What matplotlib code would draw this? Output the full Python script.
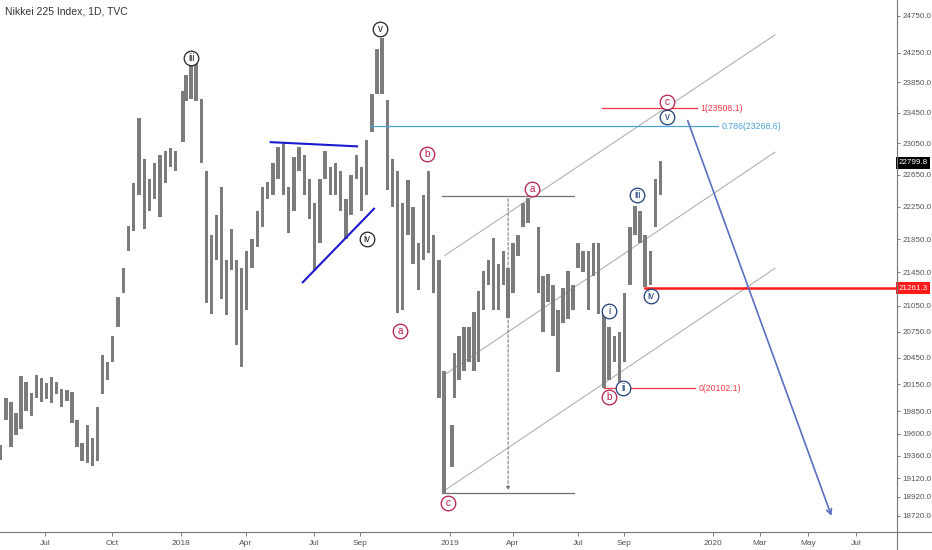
import numpy as np
import matplotlib
matplotlib.use("Agg")
from matplotlib import pyplot as plt

plt.rcParams['font.family'] = ['Liberation Sans', 'DejaVu Sans']

# ---------------- data ----------------
# weekly bars (Monday of week), high / low
week_dates = ['2017-05-01', '2017-05-08', '2017-05-15', '2017-05-22', '2017-05-29', '2017-06-05',
              '2017-06-12', '2017-06-19', '2017-06-26', '2017-07-03', '2017-07-10', '2017-07-17',
              '2017-07-24', '2017-07-31', '2017-08-07', '2017-08-14', '2017-08-21', '2017-08-28',
              '2017-09-04', '2017-09-11', '2017-09-18', '2017-09-25', '2017-10-02', '2017-10-09',
              '2017-10-16', '2017-10-23', '2017-10-30', '2017-11-06', '2017-11-13', '2017-11-20',
              '2017-11-27', '2017-12-04', '2017-12-11', '2017-12-18', '2017-12-25', '2018-01-04',
              '2018-01-08', '2018-01-15', '2018-01-22', '2018-01-29', '2018-02-05', '2018-02-12',
              '2018-02-19', '2018-02-26', '2018-03-05', '2018-03-12', '2018-03-19', '2018-03-26',
              '2018-04-02', '2018-04-09', '2018-04-16', '2018-04-23', '2018-04-30', '2018-05-07',
              '2018-05-14', '2018-05-21', '2018-05-28', '2018-06-04', '2018-06-11', '2018-06-18',
              '2018-06-25', '2018-07-02', '2018-07-09', '2018-07-16', '2018-07-23', '2018-07-30',
              '2018-08-06', '2018-08-13', '2018-08-20', '2018-08-27', '2018-09-03', '2018-09-10',
              '2018-09-17', '2018-09-24', '2018-10-01', '2018-10-08', '2018-10-15', '2018-10-22',
              '2018-10-29', '2018-11-05', '2018-11-12', '2018-11-19', '2018-11-26', '2018-12-03',
              '2018-12-10', '2018-12-17', '2018-12-24', '2019-01-04', '2019-01-07', '2019-01-14',
              '2019-01-21', '2019-01-28', '2019-02-04', '2019-02-11', '2019-02-18', '2019-02-25',
              '2019-03-04', '2019-03-11', '2019-03-18', '2019-03-25', '2019-04-01', '2019-04-08',
              '2019-04-15', '2019-04-22', '2019-05-07', '2019-05-13', '2019-05-20', '2019-05-27',
              '2019-06-03', '2019-06-10', '2019-06-17', '2019-06-24', '2019-07-01', '2019-07-08',
              '2019-07-15', '2019-07-22', '2019-07-29', '2019-08-05', '2019-08-12', '2019-08-19',
              '2019-08-26', '2019-09-02', '2019-09-09', '2019-09-16', '2019-09-23', '2019-09-30',
              '2019-10-07', '2019-10-14', '2019-10-21']
week_high = [19480, 19998, 19950, 19830, 20240, 20170, 20050, 20250, 20220, 20160, 20230, 20170,
             20100, 20080, 20060, 19750, 19500, 19700, 19550, 19900, 20480, 20400, 20700, 21160,
             21500, 22010, 22540, 23380, 22850, 22600, 22800, 22900, 22950, 22990, 22950, 23730,
             23950, 24085, 24130, 23630, 22700, 21900, 22150, 22500, 21600, 21970, 21600, 21500,
             21700, 21850, 22200, 22500, 22560, 22800, 23000, 23050, 22500, 22880, 23010, 22900,
             22600, 22300, 22600, 22950, 22750, 22800, 22700, 22350, 22650, 22900, 22750, 23100,
             23700, 24300, 24450, 23620, 22850, 22700, 22300, 22580, 22250, 21800, 22400, 22700,
             21900, 21600, 20300, 19700, 20500, 20700, 20800, 20800, 20980, 21230, 21460, 21600,
             21860, 21550, 21700, 21500, 21800, 21900, 22300, 22362, 22000, 21400, 21430, 21300,
             21000, 21260, 21460, 21300, 21800, 21700, 21700, 21800, 21800, 21000, 20800, 20700,
             20750, 21200, 22000, 22255, 22200, 21900, 21700, 22600, 22830]
week_low = [19310, 19750, 19450, 19590, 19650, 19850, 19800, 20000, 19950, 19980, 19940, 20040,
            19900, 19960, 19720, 19450, 19300, 19280, 19250, 19300, 20040, 20200, 20400, 20800,
            21200, 21700, 21950, 22400, 21970, 22200, 22350, 22120, 22550, 22750, 22700, 23070,
            23600, 23630, 23600, 22800, 21080, 20950, 21600, 21130, 20940, 21480, 20600, 20347,
            21000, 21500, 21750, 22000, 22350, 22400, 22600, 22400, 21930, 22200, 22700, 22400,
            22100, 21462, 21800, 22600, 22400, 22400, 22200, 21850, 22150, 22600, 22200, 22400,
            23200, 23700, 23700, 22460, 22250, 20971, 21000, 21900, 21550, 21240, 21600, 21680,
            21200, 20000, 18948, 19241, 20000, 20200, 20300, 20400, 20300, 20400, 21000, 21300,
            21000, 21000, 21300, 20911, 21200, 21650, 22000, 22050, 21200, 20750, 21100, 20700,
            20289, 20850, 20900, 21000, 21500, 21450, 21000, 21400, 20960, 20110, 20200, 20400,
            20173, 20400, 21300, 21900, 21800, 21276, 21300, 22000, 22400]

last_price = 22799.8
iv_level = 21261.3

# Elliott wave labels: (date, price, text, colour group)
wave_dates = ['2018-01-15', '2018-09-28', '2018-09-10', '2018-10-25', '2018-12-01', '2018-12-29',
              '2019-04-28', '2019-08-12', '2019-10-30', '2019-08-12', '2019-08-31', '2019-09-19',
              '2019-10-08', '2019-10-30']
wave_prices = [24175, 24571, 21857, 20758, 22913, 18855, 22472, 20002, 23589, 20990, 20102,
               22398, 21166, 23392]
wave_text = ['iii', 'v', 'iv', 'a', 'b', 'c', 'a', 'b', 'c', 'i', 'ii', 'iii', 'iv', 'v']
wave_group = ['k', 'k', 'k', 'r', 'r', 'r', 'r', 'r', 'r', 'n', 'n', 'n', 'n', 'n']

# fibonacci levels: (start, end, price, label)
fib_start = ['2019-08-02', '2018-09-14', '2019-08-05']
fib_end = ['2019-12-10', '2020-01-08', '2019-12-08']
fib_price = [23508.1, 23268.6, 20102.1]
fib_label = ['1(23508.1)', '0.786(23268.6)', '0(20102.1)']

# triangle lines
tri_dates = [['2018-05-04', '2018-08-28'], ['2018-06-16', '2018-09-20']]
tri_prices = [[23066, 23012], [21330, 22224]]

# parallel channel
chan_dates = ['2018-12-25', '2020-03-20']
chan_prices = [[21652, 24490], [20259, 22938], [18990, 21497]]

# measure box
meas_dates = ['2018-12-21', '2019-06-26', '2019-03-25']
meas_prices = [22385, 18960]

# projected arrow
arrow_dates = ['2019-11-26', '2020-06-01']
arrow_prices = [23379, 18694]

# axis labels
y_ticks = [24750, 24250, 23850, 23450, 23050, 22650, 22250, 21850, 21450, 21050, 20750,
           20450, 20150, 19850, 19600, 19360, 19120, 18920, 18720]
x_tick_dates = ['2017-07-01', '2017-10-01', '2018-01-01', '2018-04-01', '2018-07-01',
                '2018-09-01', '2019-01-01', '2019-04-01', '2019-07-01', '2019-09-01',
                '2020-01-01', '2020-03-01', '2020-05-01', '2020-07-01']
x_tick_labels = ['Jul', 'Oct', '2018', 'Apr', 'Jul', 'Sep', '2019', 'Apr', 'Jul', 'Sep',
                 '2020', 'Mar', 'May', 'Jul']

# TradingView-style time axis: calibration of dates to screen position
cal_dates = ['2017-04-01'] + x_tick_dates
cal_pos = [-21, 45, 112, 181, 246, 314, 360, 450, 513, 578, 624, 713, 760, 808, 856]


def tx(d):
    d = np.array(d, dtype='datetime64[D]').astype(float)
    c = np.array(cal_dates, dtype='datetime64[D]').astype(float)
    return np.interp(d, c, cal_pos)


W, H = 932, 550
fig = plt.figure(figsize=(W / 100, H / 100), dpi=100)
ax = fig.add_axes([0, 18 / H, 897 / W, 532 / H])
ax.set_yscale('log')
ax.set_ylim(18553, 24972)
ax.set_xlim(0, 897)

red = '#f23645'
maroon = '#b71c4a'
navy = '#1f3f7a'

# bars
hi = np.array(week_high, float)
lo = np.array(week_low, float)
ax.bar(tx(week_dates), hi - lo, bottom=lo, width=3.4, color='#7c7c7c', lw=0, zorder=2)

# channel
cx = tx(chan_dates)
for p in chan_prices:
    ax.plot(cx, p, color='#a8a8a8', lw=0.7, zorder=1)

# measure tool
mx = tx(meas_dates)
for p in meas_prices:
    ax.plot(mx[:2], [p, p], color='#707070', lw=0.9, zorder=1)
ax.annotate('', xy=(mx[2], meas_prices[1]), xytext=(mx[2], meas_prices[0]),
            arrowprops=dict(arrowstyle='-|>', color='#707070', lw=0.7, ls=(0, (3, 2)),
                            mutation_scale=5), zorder=1)

# triangle
for d, p in zip(tri_dates, tri_prices):
    ax.plot(tx(d), p, color='#1a1ad0', lw=1.5, zorder=3)

# fib levels
fib_cols = [red, '#4aa3d8', red]
for s, e, p, lab, c in zip(fib_start, fib_end, fib_price, fib_label, fib_cols):
    ax.plot([tx(s), tx(e)], [p, p], color=c, lw=0.9, zorder=3)
    ax.text(tx(e) + 3, p, lab, color=c, fontsize=6.3, va='center', ha='left', zorder=3)

# wave iv level
ax.plot([tx('2019-09-30'), 897], [iv_level, iv_level], color='#ff1a1a', lw=1.8, zorder=3)

# projected arrow
ax.annotate('', xy=(tx(arrow_dates[1]), arrow_prices[1]),
            xytext=(tx(arrow_dates[0]), arrow_prices[0]),
            arrowprops=dict(arrowstyle='->', color='#5b6fc0', lw=1.2, mutation_scale=9), zorder=3)

# wave labels
cols = {'k': '#222222', 'r': maroon, 'n': navy}
for d, p, t, g in zip(wave_dates, wave_prices, wave_text, wave_group):
    x = tx(d)
    ax.plot(x, p, 'o', ms=10.5, mfc='white', mec=cols[g], mew=0.9, zorder=5)
    ax.text(x, p, t, color=cols[g], fontsize=7, ha='center', va='center', zorder=6)

# axes styling
for s in ['top', 'left', 'bottom', 'right']:
    ax.spines[s].set_visible(False)
ax.yaxis.tick_right()
ax.minorticks_off()
ax.set_yticks(y_ticks)
ax.set_yticklabels(['%.1f' % v for v in y_ticks])
ax.tick_params(axis='y', length=2.5, width=0.6, color='#666', labelsize=5.8, labelcolor='#555', pad=1.5)
ax.set_xticks(tx(x_tick_dates))
ax.set_xticklabels(x_tick_labels)
ax.tick_params(axis='x', length=3, width=0.6, color='#666', labelsize=6, labelcolor='#555', pad=3)

# axis frame lines
fig.add_artist(plt.Line2D([0, 1], [18 / H, 18 / H], color='#777', lw=0.8))
fig.add_artist(plt.Line2D([897 / W, 897 / W], [0, 1], color='#777', lw=0.8))

# price tags
ytr = ax.get_yaxis_transform()
ax.text(1.002, last_price, '%.1f' % last_price, transform=ytr, fontsize=5.8, color='white',
        va='center', ha='left', bbox=dict(boxstyle='square,pad=0.3', fc='black', ec='none'),
        zorder=7, clip_on=False)
ax.text(1.002, iv_level, '%.1f' % iv_level, transform=ytr, fontsize=5.8, color='white',
        va='center', ha='left', bbox=dict(boxstyle='square,pad=0.3', fc='#ff1a1a', ec='none'),
        zorder=7, clip_on=False)

fig.text(5 / W, 1 - 11 / H, 'Nikkei 225 Index, 1D, TVC', fontsize=7.5, color='#333',
         va='center', ha='left')

fig.savefig('out.png', dpi=100)
